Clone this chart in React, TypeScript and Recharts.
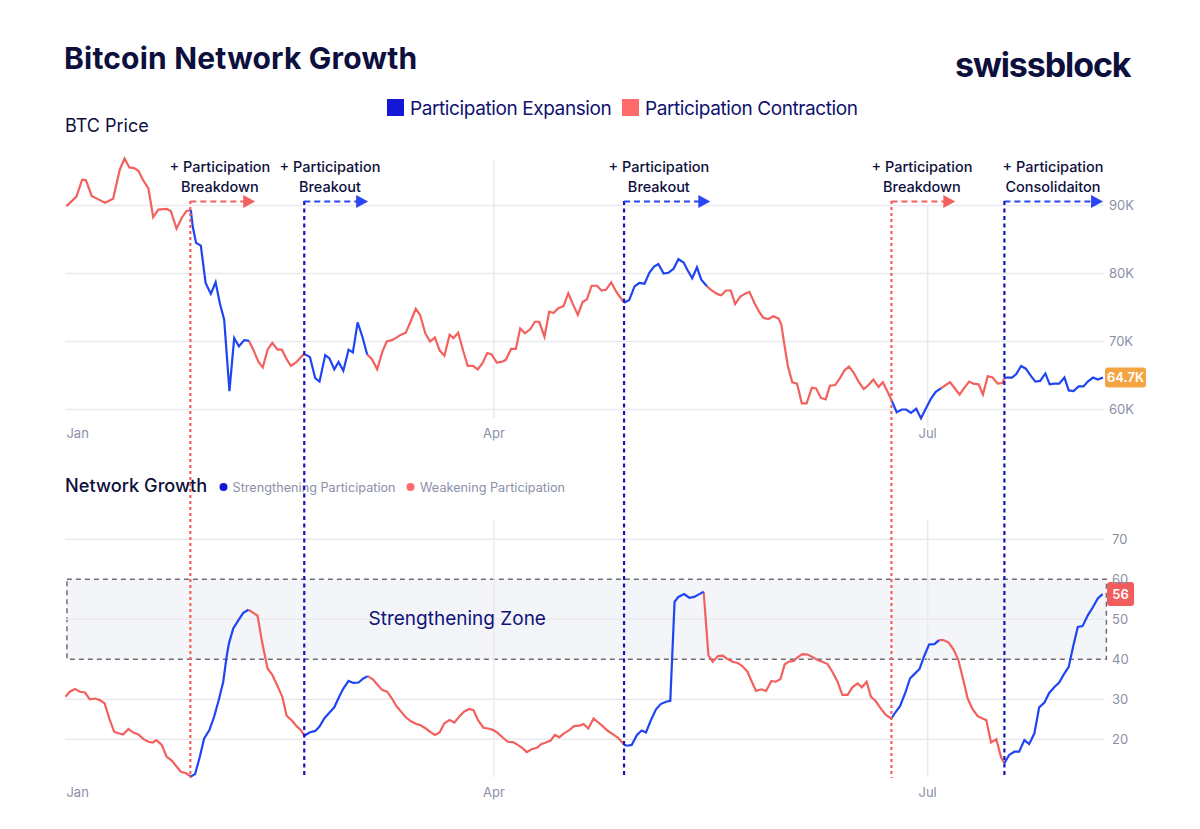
import React from 'react';
import { ComposedChart, Line, XAxis, YAxis, ReferenceLine, ReferenceArea, ReferenceDot } from 'recharts';

// ---------- data (day index from Jan 1) ----------
const btcPrice: [number, number][] = [
  [0.3, 89.9], [2.4, 91.3], [3.6, 93.8], [4.4, 93.7], [5.6, 91.4], [7.0, 90.9], [8.4, 90.4], [10.1, 91.0],
  [11.5, 95.3], [12.5, 96.9], [13.5, 95.6], [14.5, 95.5], [15.4, 95.1], [16.4, 93.7], [17.5, 92.5], [18.5, 88.3],
  [19.6, 89.4], [21.3, 89.5], [22.2, 89.2], [23.4, 86.6], [24.5, 88.2], [25.5, 89.2], [26.4, 89.3], [26.8, 86.9],
  [27.5, 84.5], [28.5, 84.1], [29.5, 78.6], [30.6, 77.0], [31.6, 78.7], [32.5, 75.6], [33.4, 73.2], [34.5, 62.7],
  [35.5, 70.5], [36.5, 69.3], [37.6, 70.2], [38.6, 70.1], [39.5, 68.8], [40.6, 67.0], [41.5, 66.2], [42.5, 68.8],
  [43.5, 69.8], [44.6, 68.8], [45.5, 68.8], [46.5, 67.4], [47.4, 66.4], [48.6, 67.0], [49.9, 68.0], [50.4, 68.1],
  [51.4, 67.7], [52.5, 64.6], [53.4, 64.1], [54.6, 68.0], [55.5, 67.5], [56.5, 65.9], [57.4, 67.0], [58.4, 65.7],
  [59.5, 68.8], [60.4, 68.4], [61.4, 72.8], [62.4, 70.7], [63.4, 68.1], [64.4, 67.4], [65.5, 65.9], [66.6, 68.5],
  [67.5, 70.0], [68.6, 70.2], [69.6, 70.6], [70.5, 71.0], [71.5, 71.3], [72.5, 72.9], [73.6, 74.8], [74.5, 73.9],
  [75.6, 71.2], [76.6, 70.0], [77.6, 70.6], [78.6, 68.7], [79.6, 67.9], [80.7, 71.0], [81.5, 70.5], [82.5, 71.3],
  [83.6, 68.5], [84.5, 66.4], [85.6, 66.4], [86.6, 65.9], [87.6, 66.8], [88.6, 68.3], [89.5, 68.1], [90.6, 66.9],
  [91.6, 67.0], [92.5, 67.3], [93.6, 68.9], [94.6, 68.9], [95.5, 71.9], [96.5, 71.2], [97.6, 71.8], [98.6, 72.9],
  [99.5, 72.9], [100.6, 70.7], [101.6, 74.4], [102.5, 74.2], [103.5, 74.9], [104.6, 75.2], [105.6, 77.1], [106.5, 75.6],
  [107.6, 73.9], [108.6, 75.8], [109.5, 76.2], [110.5, 78.2], [111.6, 78.2], [112.6, 77.5], [113.5, 77.6], [114.6, 78.7],
  [115.6, 77.4], [116.5, 76.5], [117.3, 75.7], [118.4, 76.1], [119.5, 78.1], [120.5, 78.6], [121.6, 78.5], [122.6, 80.1],
  [123.6, 81.0], [124.5, 81.4], [125.6, 80.0], [126.6, 80.1], [127.7, 80.7], [128.7, 82.1], [129.8, 81.6], [130.6, 80.5],
  [131.6, 79.3], [132.6, 80.9], [133.5, 79.1], [134.7, 78.1], [135.7, 77.5], [136.8, 77.0], [137.7, 76.8], [138.7, 77.5],
  [139.7, 77.5], [140.6, 75.5], [141.7, 76.6], [142.6, 77.0], [143.6, 77.3], [144.7, 75.6], [145.7, 74.3], [146.5, 73.5],
  [147.6, 73.3], [148.6, 73.7], [149.7, 73.4], [150.3, 72.5], [150.9, 69.7], [151.7, 66.3], [152.6, 64.0], [153.6, 63.8],
  [154.6, 60.9], [155.6, 60.9], [156.7, 63.2], [157.6, 63.1], [158.6, 61.7], [159.6, 61.5], [160.5, 63.5], [161.6, 63.6],
  [162.5, 64.5], [163.6, 65.8], [164.5, 66.3], [165.4, 65.5], [166.5, 64.1], [167.6, 63.0], [168.6, 63.6], [169.6, 64.4],
  [170.7, 63.3], [171.6, 64.0], [172.6, 62.6], [173.4, 61.4], [174.5, 59.6], [175.6, 60.0], [176.5, 60.0], [177.5, 59.5],
  [178.6, 60.1], [179.6, 58.7], [180.6, 60.1], [181.7, 61.6], [182.7, 62.6], [183.8, 63.1], [184.8, 63.6], [185.7, 64.0],
  [186.6, 63.2], [187.7, 62.2], [188.6, 63.1], [189.7, 64.1], [190.6, 63.8], [191.7, 63.7], [192.6, 62.2], [193.6, 64.9],
  [194.6, 64.7], [195.7, 63.8], [196.7, 63.9], [197.1, 64.6], [197.6, 64.7], [198.7, 64.7], [199.6, 65.2], [200.6, 66.4],
  [201.6, 66.0], [202.7, 64.9], [203.6, 64.1], [204.6, 64.2], [205.7, 65.3], [206.6, 63.7], [207.6, 63.8], [208.6, 63.8],
  [209.7, 64.7], [210.6, 62.8], [211.6, 62.7], [212.7, 63.4], [213.7, 63.4], [214.6, 64.1], [215.7, 64.7], [216.7, 64.4],
  [217.8, 64.7],
];

const networkGrowth: [number, number][] = [
  [0.1, 30.6], [1.0, 31.9], [2.1, 32.6], [3.1, 31.9], [4.2, 31.7], [5.2, 30.0], [6.3, 30.2], [7.3, 29.8],
  [8.3, 29.0], [9.3, 25.2], [10.3, 21.9], [11.2, 21.5], [12.2, 21.2], [13.3, 22.6], [14.3, 21.7], [15.4, 21.2],
  [16.4, 20.1], [17.5, 19.4], [18.4, 19.2], [19.2, 19.8], [20.3, 18.6], [21.3, 15.7], [22.4, 14.7], [23.4, 13.2],
  [24.3, 11.9], [25.4, 11.5], [26.4, 10.7], [27.3, 11.3], [28.3, 15.7], [29.2, 20.2], [30.3, 22.3], [31.3, 25.7],
  [32.3, 30.0], [33.2, 34.4], [33.9, 40.6], [34.4, 44.0], [35.3, 47.7], [36.4, 49.8], [37.4, 51.6], [38.5, 52.4],
  [39.5, 51.6], [40.4, 50.9], [41.4, 44.0], [42.5, 37.7], [43.5, 36.1], [44.6, 33.3], [45.6, 30.6], [46.5, 25.9],
  [47.6, 24.7], [48.6, 23.3], [49.5, 22.3], [50.2, 20.9], [51.3, 21.7], [52.5, 22.1], [53.4, 23.2], [54.4, 25.2],
  [55.5, 26.7], [56.5, 28.0], [57.5, 30.6], [58.4, 32.7], [59.5, 34.6], [60.5, 34.1], [61.6, 34.2], [62.6, 35.2],
  [63.5, 35.8], [64.6, 35.0], [65.6, 33.6], [66.6, 32.3], [67.6, 31.9], [68.6, 30.2], [69.6, 28.2], [70.6, 26.8],
  [71.5, 25.5], [72.6, 24.5], [73.6, 23.9], [74.6, 23.5], [75.7, 22.7], [76.7, 21.8], [77.6, 21.1], [78.6, 21.7],
  [79.6, 24.0], [80.7, 24.8], [81.7, 24.2], [82.8, 25.8], [83.7, 26.9], [84.8, 27.6], [85.7, 27.3], [86.7, 24.7],
  [87.8, 22.9], [88.8, 22.7], [89.9, 22.3], [90.9, 21.5], [91.9, 20.4], [92.9, 19.4], [94.0, 19.3], [95.0, 18.6],
  [96.0, 17.8], [96.9, 16.8], [97.9, 17.5], [99.0, 17.9], [99.9, 18.8], [100.9, 19.2], [101.9, 19.7], [102.8, 21.1],
  [103.7, 20.5], [104.7, 21.5], [105.8, 22.3], [106.8, 23.3], [107.9, 23.4], [108.8, 23.8], [109.8, 22.7], [110.9, 25.2],
  [111.9, 24.2], [112.8, 23.3], [113.8, 22.2], [114.9, 21.3], [115.9, 20.5], [116.8, 19.4], [117.3, 18.6], [118.0, 18.4],
  [118.9, 18.6], [120.0, 21.1], [121.0, 22.2], [121.9, 21.7], [122.9, 24.7], [124.0, 27.5], [125.0, 28.8], [126.1, 29.4],
  [127.0, 29.6], [127.9, 54.4], [128.7, 55.6], [129.9, 56.3], [131.0, 55.4], [132.0, 55.6], [133.1, 56.3], [134.0, 56.9],
  [135.0, 41.0], [135.9, 39.4], [137.0, 40.8], [138.0, 40.9], [139.1, 40.0], [140.1, 39.4], [141.1, 39.1], [142.1, 38.3],
  [143.2, 36.9], [144.1, 34.4], [145.0, 32.1], [146.1, 32.5], [147.1, 32.1], [148.2, 34.6], [149.1, 34.4], [150.1, 35.0],
  [151.0, 38.7], [151.8, 39.4], [152.9, 39.6], [153.7, 40.5], [154.7, 41.3], [155.8, 41.2], [156.8, 40.6], [157.9, 39.8],
  [158.9, 39.4], [160.0, 38.8], [161.0, 36.9], [162.1, 34.4], [163.1, 31.1], [164.2, 31.1], [165.2, 33.0], [166.3, 34.0],
  [167.2, 33.0], [168.2, 34.4], [169.1, 30.6], [170.0, 29.7], [171.0, 28.0], [172.1, 26.3], [172.7, 25.7], [173.4, 25.2],
  [174.2, 26.7], [175.2, 28.3], [176.3, 31.6], [177.3, 35.2], [178.2, 36.3], [179.3, 37.6], [180.3, 40.9], [181.3, 43.7],
  [182.4, 43.8], [183.4, 44.8], [184.3, 44.8], [185.4, 44.2], [186.4, 42.5], [187.4, 40.0], [188.4, 35.2], [189.4, 30.2],
  [190.4, 27.6], [191.5, 25.8], [192.5, 25.2], [193.3, 24.8], [194.3, 19.2], [195.4, 20.0], [196.4, 15.5], [197.1, 14.0],
  [198.1, 16.1], [199.2, 16.9], [200.2, 16.9], [201.3, 19.8], [202.3, 18.8], [203.4, 21.5], [204.4, 28.0], [205.5, 29.2],
  [206.5, 31.6], [207.6, 33.1], [208.6, 34.2], [209.5, 36.1], [210.6, 38.1], [211.5, 43.1], [212.5, 48.1], [213.5, 48.3],
  [214.6, 51.0], [215.6, 52.9], [216.7, 55.2], [217.7, 56.3],
];

// participation expansion periods (blue)
const expansionStart = [26.3, 50.2, 117.3, 173.4, 197.1];
const expansionEnd = [38.5, 63.5, 134.4, 183.6, 218.5];

// annotations
const annotationDays = [26.3, 50.2, 117.3, 173.4, 197.1];
const annotationIsBreakdown = [true, false, false, true, false];
const annotationTitles = ['Breakdown', 'Breakout', 'Breakout', 'Breakdown', 'Consolidaiton'];
const annotationTextDays = [32.5, 55.6, 124.6, 179.8, 207.3];
const annotationArrowEnds = [39.9, 63.6, 135.4, 186.8, 217.8];

const priceTicks = [60, 70, 80, 90];
const ngTicks = [20, 30, 40, 50, 60, 70];
const monthDays = [0.3, 90, 181];
const monthLabels = ['Jan', 'Apr', 'Jul'];

// ---------- styling ----------
const FONT = 'Inter, "Noto Sans", sans-serif';
const BLUE = '#1f45f3';
const RED = '#f2615e';
const ANN_BLUE = '#1414b8';
const ARROW_BLUE = '#2a45f2';
const NAVY = '#0d0f3d';
const GRID = '#e9eaf0';
const TICK = '#8b8fa7';

const PRICE_DOMAIN: [number, number] = [1.25, 98.16];
const NG_DOMAIN: [number, number] = [2.58, 167.33];
const X_DOMAIN: [number, number] = [0, 218];

function splitByRegime(points: [number, number][]) {
  const inExp = (d: number) => expansionStart.some((s, i) => d > s && d < expansionEnd[i]);
  const segBlue = points.slice(0, -1).map((p, i) => inExp((p[0] + points[i + 1][0]) / 2));
  return points.map(([day, v], i) => {
    const prevB = i > 0 ? segBlue[i - 1] : undefined;
    const nextB = i < points.length - 1 ? segBlue[i] : undefined;
    return {
      day,
      blue: prevB === true || nextB === true ? v : null,
      red: prevB === false || nextB === false ? v : null,
    };
  });
}

const priceData = splitByRegime(btcPrice);
const ngData = splitByRegime(networkGrowth);
const lastPrice = btcPrice[btcPrice.length - 1];
const lastNg = networkGrowth[networkGrowth.length - 1];

const textShape = (text: string, opts: { anchor?: string; size?: number; fill?: string; weight?: number }) => (p: any) => (
  <text
    x={p.cx}
    y={p.cy}
    textAnchor={opts.anchor || 'middle'}
    fontSize={opts.size || 13}
    fill={opts.fill || TICK}
    fontWeight={opts.weight || 400}
    fontFamily={FONT}
  >
    {text}
  </text>
);

const annotationShape = (title: string) => (p: any) => (
  <text x={p.cx} y={p.cy} textAnchor="middle" fontSize={14.5} fill={NAVY} fontFamily={FONT} fontWeight={500}>
    <tspan x={p.cx}>+ Participation</tspan>
    <tspan x={p.cx} dy={20}>{title}</tspan>
  </text>
);

const badgeShape = (text: string, fill: string, w: number, h: number, dx: number) => (p: any) => (
  <g>
    <rect x={p.cx + dx} y={p.cy - h / 2} width={w} height={h} rx={3} fill={fill} />
    <text
      x={p.cx + dx + w / 2}
      y={p.cy}
      dy="0.35em"
      textAnchor="middle"
      fill="#ffffff"
      fontSize={13}
      fontWeight={600}
      fontFamily={FONT}
    >
      {text}
    </text>
  </g>
);

const arrowShape = (color: string) => (p: any) => {
  const { x1, y1, x2 } = p;
  return (
    <g>
      <line x1={x1} y1={y1} x2={x2 - 10} y2={y1} stroke={color} strokeWidth={2} strokeDasharray="6 4" />
      <polygon points={`${x2},${y1} ${x2 - 12},${y1 - 6.5} ${x2 - 12},${y1 + 6.5}`} fill={color} />
    </g>
  );
};

const ARROW_Y = 90.59;
const ANN_TOP = 90.66;
const ANN_BOTTOM = 5.81;
const ANN_TEXT_Y = 94.92;

export default function App() {
  return (
    <div style={{ position: 'absolute', left: 0, top: 0, width: 1200, height: 829, background: '#ffffff', overflow: 'hidden' }}>
      <svg width={1200} height={829} style={{ position: 'absolute', left: 0, top: 0 }}>
        <text x={64} y={69} fontSize={30} fontWeight={700} fill={NAVY} fontFamily={FONT} letterSpacing={0.2}>
          Bitcoin Network Growth
        </text>
        <text x={955} y={77} fontSize={34} fontWeight={700} fill={NAVY} fontFamily={FONT} letterSpacing={-1.1}>
          swissblock
        </text>
        <rect x={387} y={99} width={17} height={17} fill="#1616d6" />
        <text x={410} y={115} fontSize={19} fill="#0f1170" fontFamily={FONT} letterSpacing={-0.4}>
          Participation Expansion
        </text>
        <rect x={622} y={99} width={17} height={17} fill="#ff6b6b" />
        <text x={645} y={115} fontSize={19} fill="#0f1170" fontFamily={FONT} letterSpacing={-0.4}>
          Participation Contraction
        </text>
        <text x={65} y={132} fontSize={18} fill={NAVY} fontFamily={FONT}>
          BTC Price
        </text>
        <text x={65} y={492} fontSize={18.2} fill={NAVY} fontFamily={FONT} fontWeight={500}>
          Network Growth
        </text>
        <circle cx={223.5} cy={487} r={4} fill="#1616d6" />
        <text x={232.5} y={491.5} fontSize={12.7} fill={TICK} fontFamily={FONT}>
          Strengthening Participation
        </text>
        <circle cx={410.5} cy={487} r={4} fill="#ff6b6b" />
        <text x={420} y={491.5} fontSize={12.7} fill={TICK} fontFamily={FONT}>
          Weakening Participation
        </text>
      </svg>
      <div style={{ position: 'absolute', left: 0, top: 0 }}>
        <ComposedChart width={1200} height={829} margin={{ top: 150, right: 96, bottom: 20, left: 65 }}>
          <XAxis dataKey="day" type="number" domain={X_DOMAIN} hide allowDataOverflow />
          <YAxis yAxisId="price" type="number" domain={PRICE_DOMAIN} hide allowDataOverflow />
          <YAxis yAxisId="ng" type="number" domain={NG_DOMAIN} hide allowDataOverflow />

          <ReferenceArea
            yAxisId="ng"
            x1={0.4}
            x2={218.5}
            y1={40}
            y2={60}
            fill="#f4f5f8"
            fillOpacity={1}
            stroke="#6f6f76"
            strokeDasharray="5 4"
            strokeWidth={1.5}
            ifOverflow="visible"
          />

          {priceTicks.map((v) => (
            <ReferenceLine
              key={`pg${v}`}
              yAxisId="price"
              y={v}
              stroke={GRID}
              strokeWidth={1.5}
              label={{ value: `${v}K`, position: 'right', offset: 5, fill: TICK, fontSize: 13, fontFamily: FONT }}
            />
          ))}
          {ngTicks.map((v) => (
            <ReferenceLine
              key={`ng${v}`}
              yAxisId="ng"
              y={v}
              stroke={v === 40 || v === 60 ? 'none' : GRID}
              strokeWidth={1.5}
              label={{ value: `${v}`, position: 'right', offset: 8, fill: TICK, fontSize: 13, fontFamily: FONT }}
            />
          ))}

          <ReferenceLine yAxisId="price" segment={[{ x: 90, y: 96.8 }, { x: 90, y: 58.7 }]} stroke={GRID} strokeWidth={1.5} />
          <ReferenceLine yAxisId="price" segment={[{ x: 181, y: 90.0 }, { x: 181, y: 57.4 }]} stroke={GRID} strokeWidth={1.5} />
          <ReferenceLine yAxisId="ng" segment={[{ x: 90, y: 74.8 }, { x: 90, y: 10.6 }]} stroke={GRID} strokeWidth={1.5} />
          <ReferenceLine yAxisId="ng" segment={[{ x: 181, y: 74.8 }, { x: 181, y: 10.6 }]} stroke={GRID} strokeWidth={1.5} />

          {monthDays.map((d, i) => (
            <ReferenceDot
              key={`mt${i}`}
              yAxisId="price"
              x={d}
              y={55.81}
              r={1}
              shape={textShape(monthLabels[i], { anchor: i === 0 ? 'start' : 'middle' })}
            />
          ))}
          {monthDays.map((d, i) => (
            <ReferenceDot
              key={`mb${i}`}
              yAxisId="ng"
              x={d}
              y={5.58}
              r={1}
              shape={textShape(monthLabels[i], { anchor: i === 0 ? 'start' : 'middle' })}
            />
          ))}

          <ReferenceDot
            yAxisId="ng"
            x={82.3}
            y={48.58}
            r={1}
            shape={textShape('Strengthening Zone', { size: 19, fill: '#10127a' })}
          />

          <Line yAxisId="price" data={priceData} dataKey="red" stroke={RED} strokeWidth={2.2} dot={false} activeDot={false} isAnimationActive={false} connectNulls={false} type="linear" />
          <Line yAxisId="price" data={priceData} dataKey="blue" stroke={BLUE} strokeWidth={2.2} dot={false} activeDot={false} isAnimationActive={false} connectNulls={false} type="linear" />
          <Line yAxisId="ng" data={ngData} dataKey="red" stroke={RED} strokeWidth={2.2} dot={false} activeDot={false} isAnimationActive={false} connectNulls={false} type="linear" />
          <Line yAxisId="ng" data={ngData} dataKey="blue" stroke={BLUE} strokeWidth={2.2} dot={false} activeDot={false} isAnimationActive={false} connectNulls={false} type="linear" />

          {annotationDays.map((d, i) => (
            <ReferenceLine
              key={`av${i}`}
              yAxisId="price"
              segment={[{ x: d, y: ANN_TOP }, { x: d, y: ANN_BOTTOM }]}
              stroke={annotationIsBreakdown[i] ? RED : ANN_BLUE}
              strokeWidth={2.2}
              strokeDasharray={annotationIsBreakdown[i] ? '3 3' : '4 3.5'}
              ifOverflow="visible"
            />
          ))}
          {annotationDays.map((d, i) => (
            <ReferenceLine
              key={`aa${i}`}
              yAxisId="price"
              segment={[{ x: d, y: ARROW_Y }, { x: annotationArrowEnds[i], y: ARROW_Y }]}
              stroke={annotationIsBreakdown[i] ? RED : ARROW_BLUE}
              shape={arrowShape(annotationIsBreakdown[i] ? RED : ARROW_BLUE)}
              ifOverflow="visible"
            />
          ))}
          {annotationDays.map((d, i) => (
            <ReferenceDot
              key={`at${i}`}
              yAxisId="price"
              x={annotationTextDays[i]}
              y={ANN_TEXT_Y}
              r={1}
              shape={annotationShape(annotationTitles[i])}
            />
          ))}

          <ReferenceDot
            yAxisId="price"
            x={lastPrice[0]}
            y={lastPrice[1]}
            r={1}
            ifOverflow="visible"
            shape={badgeShape(`${lastPrice[1].toFixed(1)}K`, '#f5a444', 41, 20, 2)}
          />
          <ReferenceDot
            yAxisId="ng"
            x={lastNg[0]}
            y={lastNg[1]}
            r={1}
            ifOverflow="visible"
            shape={badgeShape(`${Math.round(lastNg[1])}`, '#f25c5c', 27, 24, 4.5)}
          />
        </ComposedChart>
      </div>
    </div>
  );
}
